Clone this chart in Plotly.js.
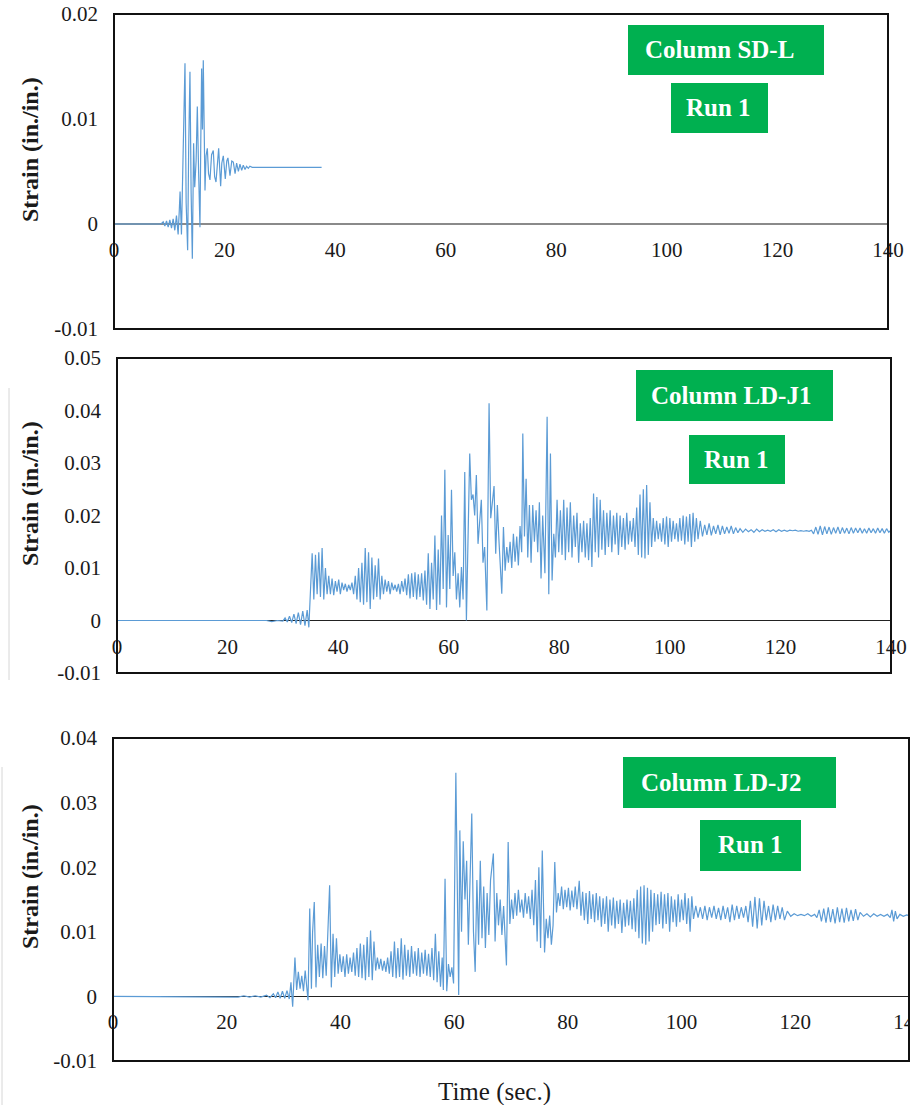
<!DOCTYPE html>
<html><head><meta charset="utf-8">
<script src="https://cdn.plot.ly/plotly-3.0.1.min.js"></script>
<style>html,body{margin:0;padding:0;background:#fff}#chart{width:910px;height:1105px}</style>
</head><body><div id="chart"></div>
<script>
// ---------- DATA ----------
const xTickVals = [0, 20, 40, 60, 80, 100, 120, 140];
const xTickText = ['0', '20', '40', '60', '80', '100', '120', '140'];
const yTickValsSDL = [-0.01, 0, 0.01, 0.02];
const yTickTextSDL = ['-0.01', '0', '0.01', '0.02'];
const yTickValsJ1 = [-0.01, 0, 0.01, 0.02, 0.03, 0.04, 0.05];
const yTickTextJ1 = ['-0.01', '0', '0.01', '0.02', '0.03', '0.04', '0.05'];
const yTickValsJ2 = [-0.01, 0, 0.01, 0.02, 0.03, 0.04];
const yTickTextJ2 = ['-0.01', '0', '0.01', '0.02', '0.03', '0.04'];
const boxLabels = [['Column SD-L', 'Run 1'], ['Column LD-J1', 'Run 1'], ['Column LD-J2', 'Run 1']];
const yTitle = 'Strain (in./in.)';
const xTitle = 'Time (sec.)';

// Column SD-L, Run 1
const timeSDL = [0, 8.5, 8.9, 9.2, 9.5, 9.8, 10.1, 10.4, 10.7, 11.0,
  11.3, 11.6, 11.8, 11.95, 12.2, 12.5, 12.84, 13.05, 13.32, 13.5,
  13.74, 13.95, 14.17, 14.4, 14.6, 14.85, 15.07, 15.3, 15.55, 15.7,
  15.85, 16.0, 16.15, 16.46, 16.65, 16.88, 17.1, 17.36, 17.65, 17.96,
  18.2, 18.45, 18.7, 18.93, 19.29, 19.5, 19.77, 20.13, 20.4, 20.61,
  20.98, 21.3, 21.58, 21.9, 22.18, 22.5, 22.78, 23.1, 23.38, 23.7,
  23.98, 24.3, 24.58, 25.0, 25.49, 30, 37.55];
const strainSDL = [0, 0, 0.0002, -0.0002, 0.0003, -0.0003, 0.0004, -0.0004, 0.0005, -0.0006,
  0.0008, -0.0010, 0.0012, 0.0031, -0.0010, 0.0060, 0.0153, 0.0020, -0.0025, 0.0070,
  0.0145, 0.0030, -0.0033, 0.0077, 0.0035, 0.0060, 0.0112, 0.0050, -0.0003, 0.0080,
  0.0148, 0.0090, 0.0156, 0.0032, 0.0065, 0.0072, 0.0048, 0.0042, 0.0066, 0.0070,
  0.0045, 0.0040, 0.0062, 0.0072, 0.0036, 0.0058, 0.0065, 0.0043, 0.0060, 0.0063,
  0.0046, 0.0060, 0.0059, 0.0048, 0.0058, 0.0050, 0.0057, 0.0051, 0.0056, 0.0052,
  0.0055, 0.0053, 0.0055, 0.0054, 0.0054, 0.0054, 0.0054];

// Column LD-J1, Run 1
const timeJ1 = [0, 24, 26, 27, 28, 29, 30, 30.4, 30.8, 31.2,
  31.6, 32.0, 32.4, 32.8, 33.2, 33.6, 34.0, 34.4, 34.7, 35.0,
  35.3, 35.6, 35.9, 36.2, 36.5, 36.8, 37.1, 37.4, 37.7, 38.0,
  38.3, 38.6, 38.9, 39.2, 39.5, 39.8, 40.1, 40.4, 40.7, 41.0,
  41.3, 41.6, 41.9, 42.2, 42.5, 42.8, 43.1, 43.4, 43.7, 44.0,
  44.3, 44.6, 44.9, 45.2, 45.5, 45.8, 46.1, 46.4, 46.7, 47.0,
  47.3, 47.6, 47.9, 48.2, 48.5, 48.8, 49.1, 49.4, 49.7, 50.0,
  50.3, 50.6, 50.9, 51.2, 51.5, 51.8, 52.1, 52.4, 52.7, 53.0,
  53.3, 53.6, 53.9, 54.2, 54.5, 54.8, 55.1, 55.4, 55.7, 56.0,
  56.3, 56.6, 56.9, 57.2, 57.5, 57.8, 58.1, 58.4, 58.7, 59.0,
  59.3, 59.6, 59.9, 60.2, 60.5, 60.8, 61.1, 61.4, 61.7, 62.0,
  62.3, 62.6, 62.9, 63.2, 63.5, 63.8, 64.1, 64.4, 64.7, 65.0,
  65.3, 65.6, 65.9, 66.2, 66.5, 66.9, 67.3, 67.6, 67.9, 68.2,
  68.5, 68.8, 69.1, 69.6, 69.9, 70.2, 70.5, 70.8, 71.1, 71.4,
  71.7, 72.0, 72.3, 72.6, 72.9, 73.2, 73.4, 73.7, 74.0, 74.3,
  74.6, 74.9, 75.2, 75.5, 75.8, 76.1, 76.4, 76.7, 77.0, 77.4,
  77.8, 78.1, 78.4, 78.7, 79.0, 79.3, 79.6, 79.9, 80.2, 80.5,
  80.8, 81.1, 81.4, 81.7, 82.0, 82.3, 82.6, 82.9, 83.2, 83.5,
  83.8, 84.1, 84.4, 84.7, 85.0, 85.3, 85.6, 85.9, 86.2, 86.5,
  86.8, 87.1, 87.4, 87.7, 88.0, 88.3, 88.6, 88.9, 89.2, 89.5,
  89.8, 90.1, 90.4, 90.7, 91.0, 91.3, 91.6, 91.9, 92.2, 92.5,
  92.8, 93.1, 93.4, 93.7, 94.0, 94.3, 94.6, 94.9, 95.2, 95.5,
  95.8, 96.1, 96.4, 96.7, 97.0, 97.3, 97.6, 97.9, 98.2, 98.5,
  98.8, 99.1, 99.4, 99.7, 100.0, 100.3, 100.6, 100.9, 101.2, 101.5,
  101.8, 102.1, 102.4, 102.7, 103.0, 103.3, 103.6, 103.9, 104.2, 104.5,
  104.8, 105.1, 105.5, 105.9, 106.3, 106.7, 107.1, 107.5, 107.9, 108.3,
  108.7, 109.1, 109.5, 109.9, 110.3, 110.7, 111.1, 111.5, 111.9, 112.3,
  112.7, 113.2, 113.7, 114.2, 114.7, 115.2, 115.7, 116.2, 116.7, 117.2,
  117.7, 118.2, 118.7, 119.2, 119.7, 120.2, 120.7, 121.2, 121.7, 122.2,
  122.7, 123.2, 123.7, 124.2, 124.7, 125.2, 125.6, 126.0, 126.4, 126.8,
  127.2, 127.6, 128.0, 128.4, 128.8, 129.2, 129.6, 130.0, 130.4, 130.8,
  131.2, 131.6, 132.0, 132.4, 132.8, 133.2, 133.6, 134.0, 134.4, 134.8,
  135.2, 135.6, 136.0, 136.4, 136.8, 137.2, 137.6, 138.0, 138.4, 138.8,
  139.2, 139.6, 140.0];
const strainJ1 = [0, 0, -0.0001, 0, -0.0002, 0, -0.0001, 0.0005, -0.0003, 0.0008,
  -0.0004, 0.0012, -0.0006, 0.0015, -0.0008, 0.0018, -0.0010, 0.0020, -0.0013, 0.0045,
  0.0128, 0.0040, 0.0125, 0.0050, 0.0130, 0.0045, 0.0138, 0.0040, 0.0100, 0.0050,
  0.0085, 0.0050, 0.0080, 0.0048, 0.0075, 0.0055, 0.0078, 0.0050, 0.0072, 0.0058,
  0.0070, 0.0055, 0.0068, 0.0058, 0.0072, 0.0050, 0.0085, 0.0040, 0.0100, 0.0035,
  0.0110, 0.0030, 0.0138, 0.0035, 0.0130, 0.0022, 0.0120, 0.0040, 0.0105, 0.0045,
  0.0118, 0.0040, 0.0085, 0.0050, 0.0078, 0.0055, 0.0075, 0.0050, 0.0072, 0.0058,
  0.0068, 0.0055, 0.0070, 0.0050, 0.0075, 0.0055, 0.0080, 0.0048, 0.0088, 0.0042,
  0.0090, 0.0045, 0.0092, 0.0040, 0.0088, 0.0045, 0.0090, 0.0038, 0.0095, 0.0030,
  0.0128, 0.0022, 0.0110, 0.0040, 0.0162, 0.0020, 0.0135, 0.0030, 0.0200, 0.0060,
  0.0287, 0.0025, 0.0163, 0.0060, 0.0249, 0.0085, 0.0130, 0.0040, 0.0090, 0.0025,
  0.0102, 0.0040, 0.0283, 0.0000, 0.0150, 0.0318, 0.0230, 0.0240, 0.0200, 0.0277,
  0.0146, 0.0200, 0.0230, 0.0110, 0.0140, 0.0019, 0.0414, 0.0195, 0.0230, 0.0256,
  0.0127, 0.0220, 0.0150, 0.0051, 0.0178, 0.0095, 0.0140, 0.0110, 0.0150, 0.0100,
  0.0165, 0.0112, 0.0160, 0.0105, 0.0180, 0.0130, 0.0356, 0.0160, 0.0270, 0.0120,
  0.0220, 0.0110, 0.0220, 0.0150, 0.0210, 0.0130, 0.0225, 0.0080, 0.0200, 0.0090,
  0.0388, 0.0050, 0.0318, 0.0076, 0.0165, 0.0120, 0.0230, 0.0130, 0.0210, 0.0125,
  0.0230, 0.0115, 0.0215, 0.0130, 0.0225, 0.0120, 0.0200, 0.0140, 0.0205, 0.0110,
  0.0185, 0.0130, 0.0190, 0.0120, 0.0185, 0.0115, 0.0195, 0.0102, 0.0242, 0.0130,
  0.0235, 0.0120, 0.0230, 0.0135, 0.0210, 0.0125, 0.0205, 0.0140, 0.0210, 0.0130,
  0.0200, 0.0145, 0.0205, 0.0125, 0.0200, 0.0140, 0.0195, 0.0135, 0.0205, 0.0145,
  0.0190, 0.0150, 0.0195, 0.0140, 0.0215, 0.0125, 0.0240, 0.0120, 0.0250, 0.0118,
  0.0258, 0.0125, 0.0225, 0.0140, 0.0195, 0.0150, 0.0190, 0.0155, 0.0185, 0.0150,
  0.0195, 0.0145, 0.0198, 0.0140, 0.0195, 0.0150, 0.0190, 0.0155, 0.0185, 0.0150,
  0.0195, 0.0152, 0.0200, 0.0145, 0.0198, 0.0150, 0.0203, 0.0140, 0.0205, 0.0150,
  0.0195, 0.0155, 0.0190, 0.0160, 0.0182, 0.0163, 0.0185, 0.0162, 0.0180, 0.0165,
  0.0182, 0.0163, 0.0180, 0.0165, 0.0178, 0.0166, 0.0180, 0.0165, 0.0177, 0.0167,
  0.0175, 0.0168, 0.0174, 0.0169, 0.0173, 0.0168, 0.0174, 0.0169, 0.0173, 0.0170,
  0.0172, 0.0170, 0.0173, 0.0169, 0.0173, 0.0170, 0.0172, 0.0170, 0.0172, 0.0171,
  0.0172, 0.0170, 0.0171, 0.0170, 0.0171, 0.0170, 0.0172, 0.0165, 0.0178, 0.0164,
  0.0180, 0.0163, 0.0179, 0.0165, 0.0178, 0.0164, 0.0177, 0.0166, 0.0178, 0.0165,
  0.0177, 0.0166, 0.0176, 0.0165, 0.0177, 0.0166, 0.0176, 0.0167, 0.0176, 0.0166,
  0.0175, 0.0166, 0.0176, 0.0167, 0.0175, 0.0166, 0.0176, 0.0167, 0.0175, 0.0166,
  0.0175, 0.0168, 0.0172];

// Column LD-J2, Run 1
const timeJ2 = [0, 20.5, 22, 23, 24, 25, 26, 27, 27.6, 28.2,
  28.6, 29.0, 29.4, 29.8, 30.2, 30.6, 31.0, 31.3, 31.6, 32.0,
  32.3, 32.6, 32.9, 33.2, 33.5, 33.8, 34.1, 34.3, 34.6, 34.9,
  35.1, 35.4, 35.7, 36.0, 36.3, 36.6, 36.9, 37.2, 37.5, 37.8,
  38.1, 38.4, 38.7, 39.0, 39.3, 39.6, 39.9, 40.2, 40.5, 40.8,
  41.1, 41.4, 41.7, 42.0, 42.3, 42.6, 42.9, 43.2, 43.5, 43.8,
  44.1, 44.4, 44.7, 45.0, 45.3, 45.6, 45.9, 46.2, 46.5, 46.8,
  47.1, 47.4, 47.7, 48.0, 48.3, 48.6, 48.9, 49.2, 49.5, 49.8,
  50.1, 50.4, 50.7, 51.0, 51.3, 51.6, 51.9, 52.2, 52.5, 52.8,
  53.1, 53.4, 53.7, 54.0, 54.3, 54.6, 54.9, 55.2, 55.5, 55.8,
  56.1, 56.4, 56.7, 57.0, 57.3, 57.6, 57.9, 58.1, 58.4, 58.7,
  59.0, 59.3, 59.6, 59.9, 60.3, 60.8, 61.0, 61.3, 61.6, 61.9,
  62.2, 62.5, 62.8, 63.1, 63.4, 63.7, 64.0, 64.3, 64.6, 64.9,
  65.2, 65.5, 65.8, 66.1, 66.4, 66.9, 67.2, 67.5, 67.8, 68.1,
  68.4, 68.7, 69.2, 69.5, 69.8, 70.1, 70.4, 70.7, 71.0, 71.3,
  71.6, 71.9, 72.2, 72.5, 72.8, 73.1, 73.4, 73.7, 74.0, 74.3,
  74.6, 74.9, 75.2, 75.5, 75.9, 76.2, 76.5, 76.8, 77.1, 77.4,
  77.7, 78.0, 78.3, 78.6, 78.9, 79.2, 79.5, 79.8, 80.1, 80.4,
  80.7, 81.0, 81.3, 81.6, 82.0, 82.3, 82.6, 82.9, 83.2, 83.5,
  83.8, 84.1, 84.4, 84.7, 85.0, 85.3, 85.6, 85.9, 86.2, 86.5,
  86.8, 87.1, 87.4, 87.7, 88.0, 88.3, 88.6, 88.9, 89.2, 89.5,
  89.8, 90.1, 90.4, 90.7, 91.0, 91.3, 91.6, 91.9, 92.2, 92.5,
  92.8, 93.1, 93.4, 93.7, 94.0, 94.3, 94.6, 94.9, 95.2, 95.5,
  95.8, 96.1, 96.4, 96.7, 97.0, 97.3, 97.6, 97.9, 98.2, 98.5,
  98.8, 99.1, 99.4, 99.7, 100.0, 100.3, 100.6, 100.9, 101.2, 101.5,
  101.8, 102.1, 102.5, 102.9, 103.3, 103.7, 104.1, 104.5, 104.9, 105.3,
  105.7, 106.1, 106.5, 106.9, 107.3, 107.7, 108.1, 108.5, 108.9, 109.3,
  109.7, 110.1, 110.5, 110.9, 111.3, 111.7, 112.1, 112.5, 112.9, 113.3,
  113.7, 114.1, 114.5, 114.9, 115.3, 115.7, 116.1, 116.5, 116.9, 117.3,
  117.7, 118.1, 118.6, 119.2, 119.8, 120.4, 121.0, 121.6, 122.2, 122.8,
  123.4, 123.8, 124.2, 124.6, 125.0, 125.4, 125.8, 126.2, 126.6, 127.0,
  127.4, 127.8, 128.2, 128.6, 129.0, 129.4, 129.8, 130.2, 130.6, 131.0,
  131.4, 132.0, 132.6, 133.2, 133.8, 134.4, 135.0, 135.6, 136.2, 136.7,
  137.0, 137.3, 137.6, 137.9, 138.4, 139.0, 139.6, 140.0];
const strainJ2 = [0, 0, -0.0001, 0.0001, -0.0001, 0.0001, -0.0001, 0.0002, -0.0002, 0.0004,
  -0.0002, 0.0007, -0.0003, 0.0008, -0.0003, 0.0009, -0.0004, 0.0022, -0.0016, 0.0060,
  0.0010, 0.0038, 0.0012, 0.0032, 0.0008, 0.0040, 0.0015, -0.0006, 0.0136, 0.0012,
  0.0099, 0.0146, 0.0014, 0.0080, 0.0030, 0.0082, 0.0028, 0.0078, 0.0032, 0.0090,
  0.0172, 0.0014, 0.0097, 0.0030, 0.0090, 0.0035, 0.0065, 0.0038, 0.0062, 0.0030,
  0.0065, 0.0035, 0.0060, 0.0038, 0.0068, 0.0032, 0.0075, 0.0030, 0.0082, 0.0028,
  0.0080, 0.0025, 0.0092, 0.0030, 0.0102, 0.0025, 0.0085, 0.0040, 0.0060, 0.0042,
  0.0058, 0.0040, 0.0055, 0.0038, 0.0060, 0.0035, 0.0070, 0.0030, 0.0085, 0.0028,
  0.0075, 0.0030, 0.0090, 0.0026, 0.0080, 0.0032, 0.0072, 0.0030, 0.0078, 0.0035,
  0.0070, 0.0032, 0.0075, 0.0030, 0.0068, 0.0035, 0.0072, 0.0032, 0.0066, 0.0030,
  0.0075, 0.0025, 0.0097, 0.0022, 0.0070, 0.0015, 0.0060, 0.0010, 0.0182, 0.0008,
  0.0050, 0.0030, 0.0045, 0.0020, 0.0346, 0.0002, 0.0257, 0.0100, 0.0240, 0.0150,
  0.0210, 0.0080, 0.0200, 0.0283, 0.0100, 0.0038, 0.0180, 0.0080, 0.0210, 0.0090,
  0.0170, 0.0075, 0.0160, 0.0095, 0.0180, 0.0221, 0.0085, 0.0160, 0.0110, 0.0150,
  0.0095, 0.0140, 0.0048, 0.0239, 0.0112, 0.0150, 0.0120, 0.0160, 0.0125, 0.0165,
  0.0130, 0.0150, 0.0122, 0.0160, 0.0128, 0.0155, 0.0120, 0.0165, 0.0110, 0.0180,
  0.0085, 0.0200, 0.0075, 0.0226, 0.0068, 0.0120, 0.0090, 0.0125, 0.0080, 0.0110,
  0.0208, 0.0130, 0.0160, 0.0140, 0.0170, 0.0135, 0.0165, 0.0138, 0.0168, 0.0133,
  0.0164, 0.0138, 0.0170, 0.0135, 0.0179, 0.0125, 0.0162, 0.0118, 0.0160, 0.0112,
  0.0163, 0.0120, 0.0158, 0.0115, 0.0160, 0.0118, 0.0155, 0.0108, 0.0152, 0.0112,
  0.0155, 0.0100, 0.0150, 0.0110, 0.0153, 0.0105, 0.0148, 0.0112, 0.0150, 0.0098,
  0.0145, 0.0108, 0.0150, 0.0110, 0.0148, 0.0104, 0.0152, 0.0100, 0.0165, 0.0090,
  0.0170, 0.0082, 0.0172, 0.0080, 0.0168, 0.0085, 0.0165, 0.0100, 0.0160, 0.0110,
  0.0158, 0.0112, 0.0162, 0.0105, 0.0158, 0.0112, 0.0160, 0.0100, 0.0155, 0.0115,
  0.0150, 0.0108, 0.0158, 0.0115, 0.0150, 0.0118, 0.0160, 0.0112, 0.0152, 0.0100,
  0.0155, 0.0120, 0.0140, 0.0122, 0.0138, 0.0120, 0.0140, 0.0118, 0.0138, 0.0122,
  0.0140, 0.0120, 0.0137, 0.0118, 0.0140, 0.0120, 0.0138, 0.0115, 0.0142, 0.0118,
  0.0140, 0.0120, 0.0138, 0.0122, 0.0140, 0.0115, 0.0148, 0.0108, 0.0154, 0.0105,
  0.0152, 0.0110, 0.0148, 0.0118, 0.0140, 0.0115, 0.0142, 0.0118, 0.0140, 0.0120,
  0.0138, 0.0118, 0.0132, 0.0124, 0.0128, 0.0125, 0.0127, 0.0125, 0.0128, 0.0124,
  0.0127, 0.0122, 0.0134, 0.0116, 0.0136, 0.0114, 0.0138, 0.0115, 0.0135, 0.0113,
  0.0138, 0.0115, 0.0136, 0.0114, 0.0137, 0.0116, 0.0134, 0.0117, 0.0135, 0.0118,
  0.0130, 0.0124, 0.0128, 0.0123, 0.0128, 0.0124, 0.0127, 0.0124, 0.0127, 0.0122,
  0.0134, 0.0116, 0.0132, 0.0120, 0.0127, 0.0124, 0.0126, 0.0125];

// ---------- LAYOUT ----------
const W = 910, H = 1105;
const fx = v => v / W;
const fy = v => 1 - v / H;
const SERIF = 'Liberation Serif';
const LINE = '#5B9BD5';
const GREEN = '#00B050';

const panels = [
  {t: timeSDL, s: strainSDL, frame: [114, 888, 14, 329], yr: [-0.01, 0.02],
   tv: yTickValsSDL, tt: yTickTextSDL, zc: '#8a8a8a', zw: 2, titleY: 150,
   boxes: [[628, 824, 25, 75, 719, 50], [671, 768, 83, 133, 718, 108]]},
  {t: timeJ1, s: strainJ1, frame: [117, 891, 358, 673], yr: [-0.01, 0.05],
   tv: yTickValsJ1, tt: yTickTextJ1, zc: '#222', zw: 1.5, titleY: 494,
   boxes: [[636, 833, 370, 421, 731, 395], [689, 785, 435, 484, 736, 459]]},
  {t: timeJ2, s: strainJ2, frame: [113, 909, 738, 1061], yr: [-0.01, 0.04],
   tv: yTickValsJ2, tt: yTickTextJ2, zc: '#222', zw: 1.5, titleY: 877,
   boxes: [[623, 836, 757, 808, 721, 782], [700, 801, 820, 871, 750, 845]]}
];

const data = [];
const layout = {
  width: W, height: H,
  margin: {l: 0, r: 0, t: 0, b: 0, autoexpand: false},
  paper_bgcolor: '#fff', plot_bgcolor: '#fff',
  showlegend: false,
  shapes: [], annotations: []
};

panels.forEach((p, i) => {
  const k = i + 1;
  const sfx = k === 1 ? '' : String(k);
  const [l, r, top, bot] = p.frame;
  const yd = [fy(bot), fy(top)];
  const zeroPos = yd[0] + (0 - p.yr[0]) / (p.yr[1] - p.yr[0]) * (yd[1] - yd[0]);
  data.push({
    type: 'scatter', mode: 'lines', x: p.t, y: p.s,
    xaxis: 'x' + sfx, yaxis: 'y' + sfx,
    line: {color: LINE, width: 1.2}, hoverinfo: 'skip'
  });
  layout['xaxis' + sfx] = {
    domain: [fx(l), fx(r)], range: [0, 140], anchor: 'free', position: zeroPos,
    tickmode: 'array', tickvals: xTickVals, ticktext: xTickText,
    showgrid: false, zeroline: false, showline: false, ticks: '',
    ticklabelstandoff: 11, ticklabeloverflow: 'allow',
    tickfont: {family: SERIF, size: 21, color: '#1a1a1a'}, fixedrange: true
  };
  layout['yaxis' + sfx] = {
    domain: yd, range: p.yr, anchor: 'x' + sfx,
    tickmode: 'array', tickvals: p.tv, ticktext: p.tt,
    showgrid: false, zeroline: true, zerolinecolor: p.zc, zerolinewidth: p.zw,
    showline: false, ticks: '', ticklabelstandoff: 15, ticklabeloverflow: 'allow',
    tickfont: {family: SERIF, size: 21, color: '#1a1a1a'}, fixedrange: true
  };
  layout.shapes.push({
    type: 'rect', xref: 'x' + sfx + ' domain', yref: 'y' + sfx + ' domain',
    x0: 0, x1: 1, y0: 0, y1: 1, line: {color: '#111', width: 2}, layer: 'above'
  });
  p.boxes.forEach((b, j) => {
    layout.shapes.push({
      type: 'rect', xref: 'paper', yref: 'paper',
      x0: fx(b[0]), x1: fx(b[1]), y0: fy(b[3]), y1: fy(b[2]),
      fillcolor: GREEN, line: {width: 0}, layer: 'above'
    });
    layout.annotations.push({
      xref: 'paper', yref: 'paper', x: fx(b[4]), y: fy(b[5]),
      xanchor: 'center', yanchor: 'middle', showarrow: false,
      text: '<b>' + boxLabels[i][j] + '</b>',
      font: {family: SERIF, size: 25, color: '#fff'}
    });
  });
  layout.annotations.push({
    xref: 'paper', yref: 'paper', x: fx(30), y: fy(p.titleY),
    xanchor: 'center', yanchor: 'middle', showarrow: false, textangle: -90,
    text: '<b>' + yTitle + '</b>',
    font: {family: SERIF, size: 24, color: '#1a1a1a'}
  });
});

layout.annotations.push({
  xref: 'paper', yref: 'paper', x: fx(495), y: fy(1092),
  xanchor: 'center', yanchor: 'middle', showarrow: false,
  text: xTitle, font: {family: SERIF, size: 25, color: '#1a1a1a'}
});

// faint crop edges seen in the picture
layout.shapes.push({type: 'line', xref: 'paper', yref: 'paper', x0: fx(9), x1: fx(9), y0: fy(388), y1: fy(680), line: {color: '#d6d6d6', width: 1}, layer: 'above'});
layout.shapes.push({type: 'line', xref: 'paper', yref: 'paper', x0: fx(2), x1: fx(2), y0: fy(767), y1: fy(1105), line: {color: '#d6d6d6', width: 1}, layer: 'above'});
layout.shapes.push({type: 'rect', xref: 'paper', yref: 'paper', x0: fx(0), x1: fx(112), y0: fy(702), y1: fy(681), fillcolor: '#fff', line: {width: 0}, layer: 'above'});

Plotly.newPlot('chart', data, layout, {displayModeBar: false, staticPlot: true});
</script>
</body></html>
